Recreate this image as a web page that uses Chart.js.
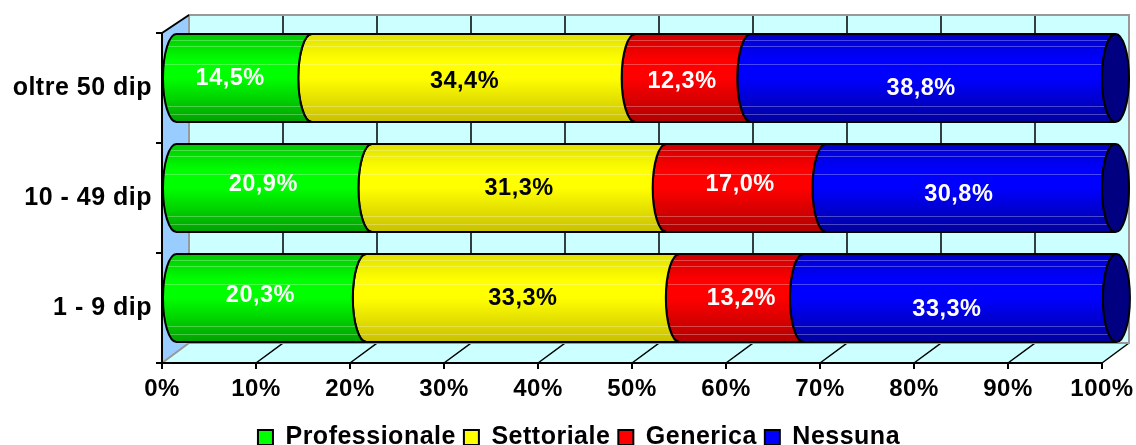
<!DOCTYPE html>
<html>
<head>
<meta charset="utf-8">
<style>html,body{margin:0;padding:0;background:#fff}canvas{display:block}</style>
<script src="https://cdn.jsdelivr.net/npm/chart.js@4/dist/chart.umd.js"></script>
</head>
<body>
<canvas id="c" width="1136" height="445"></canvas>
<script>
const categories = ['oltre 50 dip', '10 - 49 dip', '1 - 9 dip'];
const professionale = [14.5, 20.9, 20.3];
const settoriale = [34.4, 31.3, 33.3];
const generica = [12.3, 17.0, 13.2];
const nessuna = [38.8, 30.8, 33.3];
const xTicks = [0, 10, 20, 30, 40, 50, 60, 70, 80, 90, 100];

const FONT = '"Liberation Sans", Arial, sans-serif';
const DX = 27, DY = -20;            // 3D depth of the box
const STRIPES = [6, 12, 30, 72, 80]; // highlights on the tube
const shades = {
  '#00ff00': ['#00c800', '#00ff00', '#00a000'],
  '#ffff00': ['#e0e000', '#ffff00', '#c8c000'],
  '#ff0000': ['#cc0000', '#ff0000', '#b00000'],
  '#0000ff': ['#0000cc', '#0000ff', '#0000a0']
};
// nudges of each value label away from the segment centre: [dataset][row] = [dx, dy]
const labelNudge = [
  [[-14, 1], [-11, -3], [-11, -2]],
  [[-9, 4], [0, 1], [0, 1]],
  [[-11, 4], [-6, -3], [0, 1]],
  [[-12, 11], [-12, 7], [-13, 12]]
];

// cylinder segment drawn in place of the flat bar
Chart.BarElement.prototype.draw = function (ctx) {
  const {x, y, base, height} = this.getProps(['x', 'y', 'base', 'height']);
  const rx = DX / 2, ry = height / 2, cy = y + DY / 2;
  const top = cy - ry, bot = cy + ry;
  const x0 = base + rx, x1 = x + rx;
  const col = this.options.backgroundColor;
  const s = shades[col];
  const path = new Path2D();
  path.moveTo(x0, top);
  path.lineTo(x1, top);
  path.ellipse(x1, cy, rx, ry, 0, -Math.PI / 2, -1.5 * Math.PI, true);
  path.lineTo(x0, bot);
  path.ellipse(x0, cy, rx, ry, 0, Math.PI / 2, 1.5 * Math.PI, false);
  path.closePath();
  ctx.save();
  const g = ctx.createLinearGradient(0, top, 0, bot);
  g.addColorStop(0, s[0]);
  g.addColorStop(0.3, s[1]);
  g.addColorStop(0.5, s[1]);
  g.addColorStop(1, s[2]);
  ctx.fillStyle = g;
  ctx.fill(path);
  ctx.save();
  ctx.clip(path);
  ctx.strokeStyle = 'rgba(255,255,255,0.28)';
  ctx.lineWidth = 1;
  STRIPES.forEach(o => {
    ctx.beginPath();
    ctx.moveTo(base - 2, Math.round(top + o) + .5);
    ctx.lineTo(x1 + rx, Math.round(top + o) + .5);
    ctx.stroke();
  });
  ctx.restore();
  ctx.lineWidth = 2;
  ctx.strokeStyle = '#000';
  ctx.stroke(path);
  if (col === '#0000ff') {
    ctx.beginPath();
    ctx.ellipse(x1, cy, rx, ry, 0, 0, 2 * Math.PI);
    ctx.fillStyle = '#000080';
    ctx.fill();
    ctx.stroke();
  }
  ctx.restore();
};

const box3d = {
  id: 'box3d',
  beforeLayout(chart) { chart.ctx.letterSpacing = '0.5px'; },
  afterLayout(chart) {
    const l = chart.legend;
    l.top += 15; l.bottom += 15; l.left += 28; l.right += 28;
    chart.ctx.letterSpacing = '0.5px';
  },
  beforeDraw(chart) {
    const ctx = chart.ctx, a = chart.chartArea, xs = chart.scales.x;
    ctx.save();
    ctx.fillStyle = '#ccffff';
    ctx.fillRect(a.left + DX, a.top + DY + 2, a.right - a.left, a.bottom - a.top);
    ctx.beginPath();
    ctx.moveTo(a.left, a.bottom);
    ctx.lineTo(a.right, a.bottom);
    ctx.lineTo(a.right + DX, a.bottom + DY);
    ctx.lineTo(a.left + DX, a.bottom + DY);
    ctx.closePath();
    ctx.fill();
    ctx.fillStyle = '#99ccff';
    ctx.beginPath();
    ctx.moveTo(a.left, a.top);
    ctx.lineTo(a.left + DX, a.top + DY + 2);
    ctx.lineTo(a.left + DX, a.bottom + DY);
    ctx.lineTo(a.left, a.bottom);
    ctx.closePath();
    ctx.fill();
    ctx.strokeStyle = '#000';
    ctx.lineWidth = 1.5;
    xTicks.slice(1).forEach(v => {
      const p = xs.getPixelForValue(v);
      ctx.beginPath();
      ctx.moveTo(p, a.bottom);
      ctx.lineTo(p + DX, a.bottom + DY);
      if (v < 100) ctx.lineTo(p + DX, a.top + DY + 2);
      ctx.stroke();
    });
    ctx.strokeStyle = '#999';
    ctx.lineWidth = 2;
    ctx.beginPath();
    ctx.moveTo(a.left, a.bottom);
    ctx.lineTo(a.left + DX, a.bottom + DY);
    ctx.lineTo(a.right + DX, a.bottom + DY);
    ctx.lineTo(a.right + DX, a.top + DY + 2);
    ctx.lineTo(a.left + DX, a.top + DY + 2);
    ctx.lineTo(a.left + DX, a.bottom + DY);
    ctx.stroke();
    ctx.strokeStyle = '#000';
    ctx.beginPath();
    ctx.moveTo(a.left, a.top);
    ctx.lineTo(a.left + DX, a.top + DY + 2);
    ctx.stroke();
    ctx.restore();
  },
  afterDatasetsDraw(chart) {
    const ctx = chart.ctx;
    ctx.save();
    ctx.font = 'bold 23.5px ' + FONT;
    ctx.textAlign = 'center';
    ctx.textBaseline = 'middle';
    chart.data.datasets.forEach((ds, i) => {
      chart.getDatasetMeta(i).data.forEach((el, j) => {
        const n = labelNudge[i][j];
        ctx.fillStyle = ds.backgroundColor === '#ffff00' ? '#000' : '#fff';
        const txt = ds.data[j].toFixed(1).replace('.', ',') + '%';
        ctx.fillText(txt, (el.x + el.base) / 2 + DX / 2 + n[0], el.y + DY / 2 + n[1]);
      });
    });
    ctx.restore();
  }
};

const series = (label, data, color) => ({
  label, data, backgroundColor: color, borderColor: '#000', borderWidth: 2,
  barPercentage: 0.8, categoryPercentage: 1, clip: false
});

new Chart(document.getElementById('c'), {
  type: 'bar',
  data: {
    labels: categories,
    datasets: [
      series('Professionale', professionale, '#00ff00'),
      series('Settoriale', settoriale, '#ffff00'),
      series('Generica', generica, '#ff0000'),
      series('Nessuna', nessuna, '#0000ff')
    ]
  },
  plugins: [box3d],
  options: {
    indexAxis: 'y',
    responsive: false,
    animation: false,
    events: [],
    layout: {padding: {left: 0, right: 34, top: 33, bottom: 0}},
    plugins: {
      tooltip: {enabled: false},
      legend: {
        position: 'bottom',
        labels: {
          boxWidth: 15, boxHeight: 15, padding: 8, color: '#000',
          font: {family: FONT, weight: 'bold', size: 25}
        }
      }
    },
    scales: {
      x: {
        stacked: true, min: 0, max: 100,
        afterBuildTicks(s) { s.ticks = xTicks.map(v => ({value: v})); },
        afterFit(s) { s.height = 39; s.paddingLeft = 0; s.paddingRight = 0; },
        border: {color: '#000', width: 2},
        grid: {drawOnChartArea: false, color: '#000', lineWidth: 2, tickLength: 6},
        ticks: {
          color: '#000', maxRotation: 0, autoSkip: false, padding: 6,
          font: {family: FONT, weight: 'bold', size: 24},
          callback: v => v + '%'
        }
      },
      y: {
        stacked: true,
        afterFit(s) { s.width = 162; s.paddingTop = 0; s.paddingBottom = 0; },
        border: {color: '#000', width: 2},
        grid: {drawOnChartArea: false, color: '#000', lineWidth: 2, tickLength: 6, offset: true},
        ticks: {
          color: '#000', padding: 4,
          font: {family: FONT, weight: 'bold', size: 25}
        }
      }
    }
  }
});
</script>
</body>
</html>
